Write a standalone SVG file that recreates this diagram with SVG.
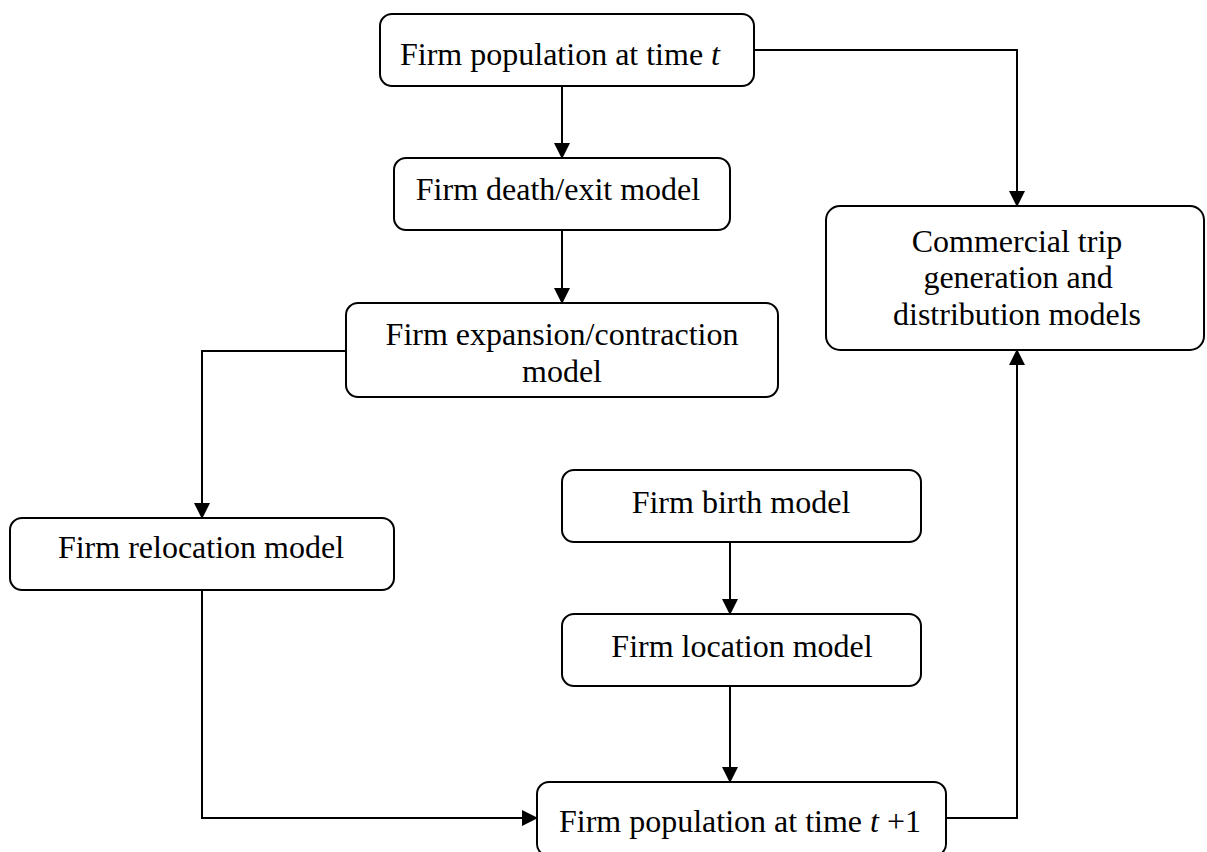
<svg xmlns="http://www.w3.org/2000/svg" width="1207" height="852" viewBox="0 0 1207 852">
  <style>
    .box { fill: #ffffff; stroke: #000000; stroke-width: 2; }
    .lbl { font-family: "Liberation Serif", "Times New Roman", serif; font-size: 32px; fill: #000000; text-anchor: middle; }
    .it { font-style: italic; }
    .conn { fill: none; stroke: #000000; stroke-width: 2; marker-end: url(#arrow); }
  </style>
  <defs>
    <marker id="arrow" viewBox="0 0 16 16" refX="15" refY="8" markerWidth="16" markerHeight="16" markerUnits="userSpaceOnUse" orient="auto">
      <path d="M0,0 L16,8 L0,16 z" fill="#000000"/>
    </marker>
  </defs>
  <rect width="1207" height="852" fill="#ffffff"/>

  <g id="connectors">
    <path class="conn" d="M562,86 V158"/>
    <path class="conn" d="M562,230 V303"/>
    <path class="conn" d="M754,50 H1017 V206"/>
    <path class="conn" d="M346,351 H202 V518"/>
    <path class="conn" d="M202,590 V818 H537"/>
    <path class="conn" d="M730,542 V614"/>
    <path class="conn" d="M730,686 V782"/>
    <path class="conn" d="M946,818 H1017 V350"/>
  </g>

  <g id="node-pop-t">
    <rect class="box" x="380" y="14" width="374" height="72" rx="12" ry="12"/>
    <text class="lbl" x="560" y="65">Firm population at time <tspan class="it">t</tspan></text>
  </g>

  <g id="node-death">
    <rect class="box" x="394" y="158" width="336" height="72" rx="12" ry="12"/>
    <text class="lbl" x="558" y="200">Firm death/exit model</text>
  </g>

  <g id="node-expansion">
    <rect class="box" x="346" y="303" width="432" height="94" rx="12" ry="12"/>
    <text class="lbl" x="562" y="345">Firm expansion/contraction</text>
    <text class="lbl" x="562" y="382">model</text>
  </g>

  <g id="node-relocation">
    <rect class="box" x="10" y="518" width="384" height="72" rx="12" ry="12"/>
    <text class="lbl" x="201" y="558">Firm relocation model</text>
  </g>

  <g id="node-birth">
    <rect class="box" x="562" y="470" width="359" height="72" rx="12" ry="12"/>
    <text class="lbl" x="741" y="513">Firm birth model</text>
  </g>

  <g id="node-location">
    <rect class="box" x="562" y="614" width="359" height="72" rx="12" ry="12"/>
    <text class="lbl" x="742" y="657">Firm location model</text>
  </g>

  <g id="node-pop-t1">
    <rect class="box" x="537" y="782" width="409" height="74" rx="12" ry="12"/>
    <text class="lbl" x="740" y="832">Firm population at time <tspan class="it">t</tspan> +1</text>
  </g>

  <g id="node-trip">
    <rect class="box" x="826" y="206" width="378" height="144" rx="14" ry="14"/>
    <text class="lbl" x="1017" y="252">Commercial trip</text>
    <text class="lbl" x="1018" y="288">generation and</text>
    <text class="lbl" x="1017" y="325">distribution models</text>
  </g>
</svg>
